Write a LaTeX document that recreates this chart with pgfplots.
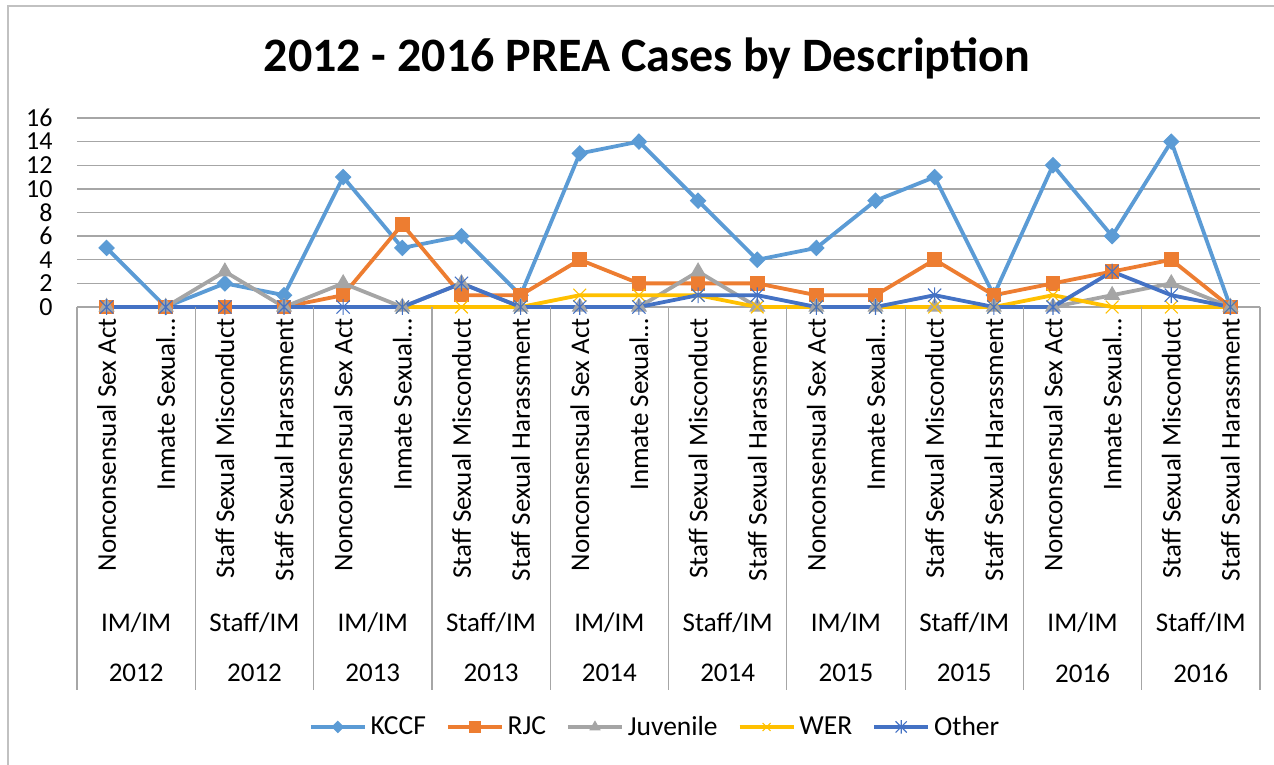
\documentclass[border=0pt]{standalone}
\usepackage{fontspec}
\setmainfont{Carlito}
\usepackage{pgfplots}
\pgfplotsset{compat=1.18}
\definecolor{kccf}{HTML}{5B9BD5}
\definecolor{rjc}{HTML}{ED7D31}
\definecolor{juv}{HTML}{A5A5A5}
\definecolor{wer}{HTML}{FFC000}
\definecolor{oth}{HTML}{4472C4}
\definecolor{gridc}{HTML}{A6A6A6}
\pgfdeclareplotmark{xstar}{%
 \pgfpathmoveto{\pgfqpoint{-\pgfplotmarksize}{-\pgfplotmarksize}}\pgfpathlineto{\pgfqpoint{\pgfplotmarksize}{\pgfplotmarksize}}%
 \pgfpathmoveto{\pgfqpoint{-\pgfplotmarksize}{\pgfplotmarksize}}\pgfpathlineto{\pgfqpoint{\pgfplotmarksize}{-\pgfplotmarksize}}%
 \pgfpathmoveto{\pgfqpoint{0pt}{-1.2\pgfplotmarksize}}\pgfpathlineto{\pgfqpoint{0pt}{1.2\pgfplotmarksize}}%
 \pgfusepathqstroke}
\begin{document}
\begin{tikzpicture}[x=0.5pt,y=0.5pt]
\useasboundingbox (0,0) rectangle (1274,765);
\draw[gridc!70, line width=0.75pt] (8,-20) -- (8,759) -- (1300,759);
\node[anchor=base, font=\fontsize{24}{28}\selectfont\bfseries] at (647,693) {2012 - 2016 PREA Cases by Description};
\begin{axis}[
  at={(38.5pt,229pt)}, anchor=south west,
  scale only axis, width=591.5pt, height=94.5pt,
  xmin=-0.5, xmax=19.5, ymin=0, ymax=16,
  ytick={0,2,...,16},
  xtick={0,...,19},
  xticklabels={Nonconsensual Sex Act,Inmate Sexual…,Staff Sexual Misconduct,Staff Sexual Harassment,Nonconsensual Sex Act,Inmate Sexual…,Staff Sexual Misconduct,Staff Sexual Harassment,Nonconsensual Sex Act,Inmate Sexual…,Staff Sexual Misconduct,Staff Sexual Harassment,Nonconsensual Sex Act,Inmate Sexual…,Staff Sexual Misconduct,Staff Sexual Harassment,Nonconsensual Sex Act,Inmate Sexual…,Staff Sexual Misconduct,Staff Sexual Harassment},
  xticklabel style={rotate=90, anchor=east, font=\fontsize{13.5}{16}\selectfont, inner ysep=0pt, inner xsep=5.5pt},
  yticklabel style={font=\fontsize{13}{16}\selectfont, anchor=east, inner xsep=12pt, inner ysep=0pt},
  /pgf/number format/assume math mode=true,
  major tick length=0pt,
  axis line style={draw=none},
  ymajorgrids, grid style={gridc, line width=0.65pt},
  clip=false,
  legend columns=-1,
  legend style={at={(axis description cs:0.4895,-2.222)}, anchor=center, draw=none, fill=none,
    font=\fontsize{13.75}{16}\selectfont, /tikz/every even column/.append style={column sep=8pt}},
  legend image code/.code={\draw[mark repeat=2,mark phase=2,mark size=2.8pt] plot coordinates {(0pt,0pt) (13.5pt,0pt) (27pt,0pt)};},
]
\addplot[kccf, line width=1.9pt, mark=diamond*, mark size=3.8pt, mark options={solid, line width=0.5pt, fill=kccf, xscale=1.33}] coordinates {
(0,5)(1,0)(2,2)(3,1)(4,11)(5,5)(6,6)(7,1)(8,13)(9,14)(10,9)(11,4)(12,5)(13,9)(14,11)(15,1)(16,12)(17,6)(18,14)(19,0)};
\addlegendentry{KCCF}
\addplot[rjc, line width=1.9pt, mark=square*, mark size=3.4pt, mark options={solid, line width=0.5pt, fill=rjc}] coordinates {
(0,0)(1,0)(2,0)(3,0)(4,1)(5,7)(6,1)(7,1)(8,4)(9,2)(10,2)(11,2)(12,1)(13,1)(14,4)(15,1)(16,2)(17,3)(18,4)(19,0)};
\addlegendentry{RJC}
\addplot[juv, line width=1.9pt, mark=triangle*, mark size=4.2pt, mark options={solid, line width=0.5pt, fill=juv}] coordinates {
(0,0)(1,0)(2,3)(3,0)(4,2)(5,0)(6,2)(7,0)(8,0)(9,0)(10,3)(11,0)(12,0)(13,0)(14,0)(15,0)(16,0)(17,1)(18,2)(19,0)};
\addlegendentry{Juvenile}
\addplot[wer, line width=1.9pt, mark=x, mark size=4.5pt, mark options={solid, line width=0.55pt}] coordinates {
(5,0)(6,0)(7,0)(8,1)(9,1)(10,1)(11,0)(12,0)(13,0)(14,0)(15,0)(16,1)(17,0)(18,0)(19,0)};
\addlegendentry{WER}
\addplot[oth, line width=1.9pt, mark=xstar, mark size=3.3pt, mark options={solid, line width=0.55pt}] coordinates {
(0,0)(1,0)(2,0)(3,0)(4,0)(5,0)(6,2)(7,0)(8,0)(9,0)(10,1)(11,1)(12,0)(13,0)(14,1)(15,0)(16,0)(17,3)(18,1)(19,0)};
\addlegendentry{Other}
\end{axis}
\foreach \k in {0,...,10} {
  \draw[gridc, line width=0.6pt] ({77+118.3*\k},458) -- ({77+118.3*\k},75);
}
\foreach \k/\lab/\yr in {0/IM\slash IM/2012,1/Staff\slash IM/2012,2/IM\slash IM/2013,3/Staff\slash IM/2013,4/IM\slash IM/2014,5/Staff\slash IM/2014,6/IM\slash IM/2015,7/Staff\slash IM/2015,8/IM\slash IM/2016,9/Staff\slash IM/2016} {
  \node[font=\fontsize{13.5}{16}\selectfont] at ({77+118.3*\k+59.15},142) {\lab};
  \node[font=\fontsize{13.5}{16}\selectfont] at ({77+118.3*\k+59.15},92) {\yr};
}
\end{tikzpicture}
\end{document}
